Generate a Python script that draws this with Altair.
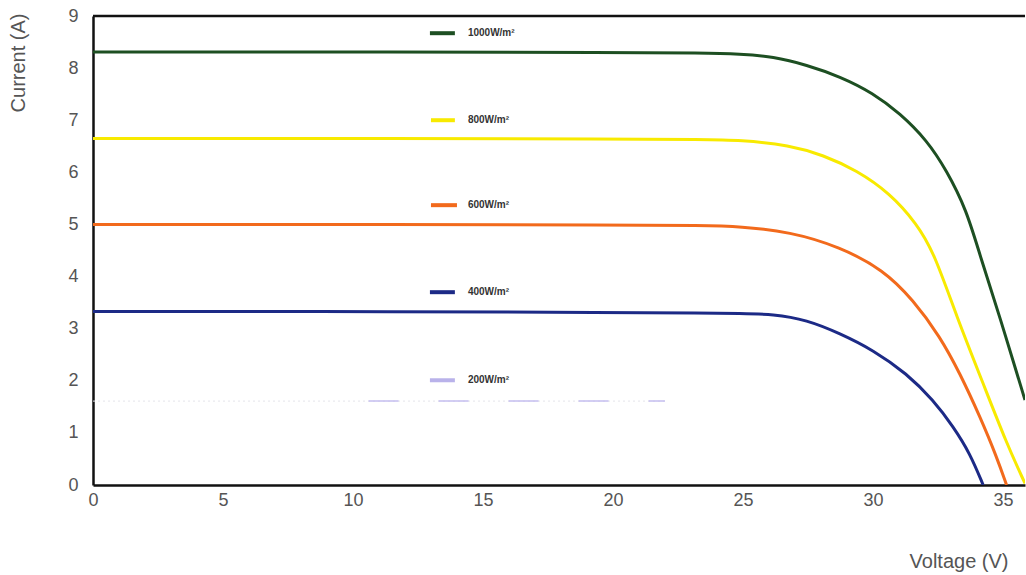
import altair as alt
import pandas as pd

# ---- data ----
v_1000 = [0, 12, 20, 23.5, 24.88, 26.17, 27.45, 28.73, 30.01, 31.04, 32.07, 32.83, 33.6, 34.12, 34.88, 35.85]
i_1000 = [8.31, 8.31, 8.30, 8.29, 8.27, 8.22, 8.06, 7.84, 7.52, 7.13, 6.62, 6.04, 5.28, 4.40, 3.23, 1.63]

v_800 = [0, 12, 20, 23.5, 24.88, 26.81, 28.09, 29.37, 30.65, 31.68, 32.36, 33.22, 34.24, 35.14, 35.85]
i_800 = [6.65, 6.65, 6.64, 6.63, 6.62, 6.52, 6.33, 6.04, 5.60, 5.02, 4.45, 3.23, 1.95, 0.80, 0.03]

v_600 = [0, 12, 20, 23.5, 24.88, 26.81, 28.73, 30.4, 31.55, 32.58, 33.35, 34.12, 34.76, 35.14]
i_600 = [5.00, 5.00, 4.99, 4.98, 4.96, 4.86, 4.57, 4.13, 3.55, 2.85, 2.14, 1.31, 0.54, 0.0]

v_400 = [0, 12, 20, 23.5, 24.88, 26.17, 27.45, 28.73, 30.01, 31.30, 32.32, 33.09, 33.73, 34.24]
i_400 = [3.33, 3.33, 3.31, 3.30, 3.29, 3.28, 3.17, 2.91, 2.59, 2.14, 1.63, 1.12, 0.61, 0.0]

v_200 = [0, 22.0]
i_200 = [1.61, 1.61]
v_200_dash = [10.6, 22.0]
i_200_dash = [1.61, 1.61]

labels = ["1000W/m²", "800W/m²", "600W/m²", "400W/m²", "200W/m²"]
label_y = [8.67, 7.0, 5.37, 3.70, 2.01]
swatch_x1 = [12.96, 13.0, 13.0, 12.96, 12.96]
swatch_x2 = [13.92, 13.92, 14.0, 13.92, 13.92]
label_x = [14.42, 14.42, 14.42, 14.42, 14.42]
colors = ["#1d4f22", "#f8ea00", "#f26a1c", "#1c2a86", "#b9b2ea"]

x_ticks = [0, 5, 10, 15, 20, 25, 30, 35]
y_ticks = [0, 1, 2, 3, 4, 5, 6, 7, 8, 9]

# ---- tables ----
rows = []
for name, vs, cs in [(labels[0], v_1000, i_1000), (labels[1], v_800, i_800),
                     (labels[2], v_600, i_600), (labels[3], v_400, i_400)]:
    for k, (v, c) in enumerate(zip(vs, cs)):
        rows.append({"s": name, "v": v, "i": c, "o": k})
curves = pd.DataFrame(rows)
faint = pd.DataFrame({"v": v_200, "i": i_200})
faint2 = pd.DataFrame({"v": v_200_dash, "i": i_200_dash})
leg = pd.DataFrame({"s": labels, "x1": swatch_x1, "x2": swatch_x2,
                    "tx": label_x, "y": label_y})

xscale = alt.Scale(domain=[0, 35.85], nice=False, zero=False)
yscale = alt.Scale(domain=[0, 9], nice=False, zero=True)
cscale = alt.Scale(domain=labels, range=colors)

xaxis = alt.Axis(values=x_ticks, title="Voltage (V)", grid=False, ticks=False,
                 domainColor="#111", domainWidth=2.5, labelFontSize=18,
                 labelColor="#555", labelPadding=6, labelFont="Liberation Sans",
                 titleFont="Liberation Sans", titleFontSize=20, titleFontWeight="normal",
                 titleColor="#555", titleAnchor="end", titleAlign="right",
                 titleX=915, titleY=82, titleBaseline="alphabetic", labelFlush=False)
yaxis = alt.Axis(values=y_ticks, title="Current (A)", grid=False, ticks=False,
                 domainColor="#111", domainWidth=2.5, labelFontSize=18,
                 labelColor="#555", labelPadding=15, labelFont="Liberation Sans",
                 titleFont="Liberation Sans", titleFontSize=20, titleFontWeight="normal",
                 titleColor="#555", titleAngle=-90, titleAlign="right",
                 titleX=-69, titleY=-3, titleBaseline="alphabetic", labelFlush=False)

X = lambda f: alt.X(f, scale=xscale, axis=xaxis)
Y = lambda f: alt.Y(f, scale=yscale, axis=yaxis)

lines = alt.Chart(curves).mark_line(strokeWidth=3, interpolate="basis", clip=True).encode(
    x=X("v:Q"),
    y=Y("i:Q"),
    color=alt.Color("s:N", scale=cscale, legend=None),
    order="o:Q",
)

faint_base = alt.Chart(faint).mark_line(strokeWidth=1, color="#e4e4ea", strokeDash=[2, 3]).encode(
    x=X("v:Q"), y=Y("i:Q"),
)
faint_dash = alt.Chart(faint2).mark_line(strokeWidth=1.5, color="#c5bff0",
                                         strokeDash=[30, 40]).encode(
    x=X("v:Q"), y=Y("i:Q"),
)

top = alt.Chart(pd.DataFrame({"y": [9]})).mark_rule(color="#111", strokeWidth=2.5).encode(
    y=Y("y:Q")
)

swatch = alt.Chart(leg).mark_rule(strokeWidth=4).encode(
    x=X("x1:Q"),
    x2="x2:Q",
    y=Y("y:Q"),
    color=alt.Color("s:N", scale=cscale, legend=None),
)

text = alt.Chart(leg).mark_text(align="left", baseline="middle", fontSize=10,
                                fontWeight="bold", color="#333",
                                font="Liberation Sans").encode(
    x=X("tx:Q"),
    y=Y("y:Q"),
    text="s:N",
)

chart = alt.layer(faint_base, faint_dash, lines, top, swatch, text).properties(
    width=932, height=469,
    autosize=alt.AutoSizeParams(type="none"),
    padding={"left": 93, "top": 16, "right": 1, "bottom": 90},
    background="white",
).configure_view(stroke=None)

chart.save("out.html", embed_options={"renderer": "svg", "actions": False})
